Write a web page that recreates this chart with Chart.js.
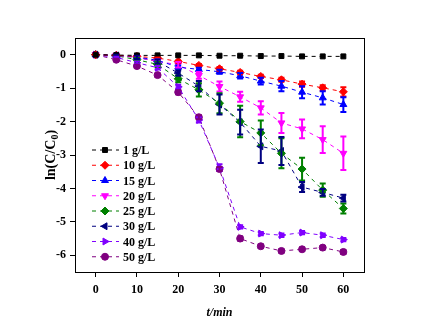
<!DOCTYPE html>
<html lang="en">
  <head>
    <meta charset="UTF-8" />
    <title>ln(C/C0) vs t</title>
    <script src="https://cdn.jsdelivr.net/npm/chart.js"></script>
    <style>
      html, body { margin: 0; padding: 0; background: #fff; }
      #wrap { width: 422px; height: 326px; }
    </style>
  </head>
  <body>
    <div id="wrap"><canvas id="chart" width="422" height="326"></canvas></div>

    <script>
      // time axis (min)
      const times = [0, 5, 10, 15, 20, 25, 30, 35, 40, 45, 50, 55, 60];
      const seriesLabels = ["1 g/L", "10 g/L", "15 g/L", "20 g/L", "25 g/L", "30 g/L", "40 g/L", "50 g/L"];
      const xTicks = [0, 10, 20, 30, 40, 50, 60];
      const yTicks = [0, -1, -2, -3, -4, -5, -6];

      // ln(C/C0) values
      const g1  = [0, -0.01, -0.02, -0.02, -0.02, -0.02, -0.03, -0.03, -0.04, -0.04, -0.05, -0.05, -0.05];
      const g10 = [0, -0.02, -0.05, -0.1, -0.2, -0.32, -0.42, -0.53, -0.65, -0.75, -0.88, -0.99, -1.11];
      const g15 = [0, -0.02, -0.06, -0.17, -0.37, -0.44, -0.51, -0.63, -0.79, -0.94, -1.12, -1.29, -1.49];
      const g20 = [0, -0.02, -0.08, -0.2, -0.3, -0.62, -0.95, -1.26, -1.59, -2.04, -2.22, -2.54, -2.95];
      const g25 = [0, -0.03, -0.15, -0.29, -0.72, -1.05, -1.45, -2.0, -2.34, -2.95, -3.42, -4.05, -4.6];
      const g30 = [0, -0.02, -0.08, -0.2, -0.55, -0.94, -1.49, -2.02, -2.74, -2.88, -3.96, -4.12, -4.29];
      const g40 = [0, -0.08, -0.24, -0.39, -0.96, -1.95, -3.38, -5.15, -5.35, -5.4, -5.32, -5.4, -5.53];
      const g50 = [0, -0.15, -0.34, -0.61, -1.12, -1.87, -3.42, -5.5, -5.73, -5.87, -5.82, -5.77, -5.9];

      // error bar half widths
      const e1  = [0, 0, 0, 0, 0, 0, 0, 0, 0, 0, 0, 0, 0];
      const e10 = [0, 0, 0, 0.02, 0.03, 0.04, 0.05, 0.05, 0.05, 0.06, 0.08, 0.08, 0.14];
      const e15 = [0, 0, 0.02, 0.03, 0.05, 0.05, 0.06, 0.08, 0.1, 0.15, 0.18, 0.2, 0.22];
      const e20 = [0, 0, 0.03, 0.05, 0.08, 0.1, 0.15, 0.15, 0.2, 0.3, 0.28, 0.4, 0.5];
      const e25 = [0, 0.02, 0.05, 0.08, 0.1, 0.2, 0.3, 0.47, 0.37, 0.45, 0.34, 0.2, 0.15];
      const e30 = [0, 0.02, 0.05, 0.06, 0.08, 0.15, 0.3, 0.37, 0.5, 0.42, 0.15, 0.1, 0.1];
      const e40 = [0, 0.02, 0.04, 0.05, 0.06, 0.08, 0.1, 0.05, 0.05, 0.05, 0.05, 0.05, 0.05];
      const e50 = [0, 0.03, 0.04, 0.05, 0.06, 0.06, 0.06, 0.06, 0.05, 0.05, 0.05, 0.05, 0.06];

      const values = [g1, g10, g15, g20, g25, g30, g40, g50];
      const errors = [e1, e10, e15, e20, e25, e30, e40, e50];
      const colors = ["#000000", "#ff0000", "#0000ff", "#ff00ff", "#008000", "#000080", "#8000ff", "#800080"];
      const styles = ["rect", "rectRot", "triangle", "triangle", "rectRot", "triangle", "triangle", "circle"];
      const rotations = [0, 0, 0, 180, 0, -90, 90, 0];
      const radii = [3.5, 4, 4, 4, 4, 4, 4, 3.5];

      const FONT = "'Liberation Serif', 'DejaVu Serif', serif";

      const datasets = values.map((v, k) => ({
        label: seriesLabels[k],
        data: times.map((t, i) => ({ x: t, y: v[i] })),
        errors: errors[k],
        borderColor: colors[k],
        backgroundColor: colors[k],
        borderWidth: 1,
        borderDash: [4, 4],
        pointStyle: styles[k],
        rotation: rotations[k],
        pointRadius: radii[k],
        pointBorderWidth: 1,
        showLine: true,
        fill: false,
      }));

      // error bars drawn with the chart scales
      const errorBars = {
        id: "errorBars",
        afterDatasetsDraw(chart) {
          const { ctx, scales } = chart;
          ctx.save();
          chart.data.datasets.forEach((ds) => {
            ctx.strokeStyle = ds.borderColor;
            ctx.lineWidth = 2;
            ds.data.forEach((p, i) => {
              const e = ds.errors[i];
              if (!e) return;
              const x = scales.x.getPixelForValue(p.x);
              const y1 = scales.y.getPixelForValue(p.y + e);
              const y2 = scales.y.getPixelForValue(p.y - e);
              ctx.beginPath();
              ctx.moveTo(x, y1); ctx.lineTo(x, y2);
              ctx.moveTo(x - 3, y1); ctx.lineTo(x + 3, y1);
              ctx.moveTo(x - 3, y2); ctx.lineTo(x + 3, y2);
              ctx.stroke();
            });
          });
          ctx.restore();
        },
      };

      // frame, legend and axis titles
      const decorations = {
        id: "decorations",
        afterDraw(chart) {
          const { ctx, chartArea: a } = chart;
          ctx.save();
          ctx.strokeStyle = "#000";
          ctx.lineWidth = 1;
          ctx.strokeRect(a.left + 0.5, a.top + 0.5, a.right - a.left, a.bottom - a.top);

          // legend
          ctx.font = "bold 12px " + FONT;
          ctx.textBaseline = "middle";
          chart.data.datasets.forEach((ds, k) => {
            const y = 150 + k * 15.25;
            ctx.strokeStyle = ds.borderColor;
            ctx.fillStyle = ds.backgroundColor;
            ctx.lineWidth = 1;
            ctx.setLineDash([4, 4]);
            ctx.beginPath();
            ctx.moveTo(92, y); ctx.lineTo(119, y);
            ctx.stroke();
            ctx.setLineDash([]);
            Chart.helpers.drawPoint(ctx, {
              pointStyle: ds.pointStyle, rotation: ds.rotation,
              radius: ds.pointRadius, borderWidth: 1,
            }, 105, y);
            ctx.fillStyle = "#000";
            ctx.textAlign = "left";
            ctx.fillText(ds.label, 123, y + 1);
          });

          // y title ln(C/C0)
          ctx.save();
          ctx.translate(50, (a.top + a.bottom) / 2);
          ctx.rotate(-Math.PI / 2);
          ctx.fillStyle = "#000";
          ctx.font = "bold 14px " + FONT;
          const main = "ln(C/C";
          const w1 = ctx.measureText(main).width;
          ctx.font = "bold 10px " + FONT;
          const ws = ctx.measureText("0").width;
          ctx.font = "bold 14px " + FONT;
          const w3 = ctx.measureText(")").width;
          let x0 = -(w1 + ws + w3) / 2;
          ctx.textAlign = "left";
          ctx.textBaseline = "alphabetic";
          ctx.fillText(main, x0, 5);
          ctx.font = "bold 10px " + FONT;
          ctx.fillText("0", x0 + w1, 8);
          ctx.font = "bold 14px " + FONT;
          ctx.fillText(")", x0 + w1 + ws, 5);
          ctx.restore();

          // x title t/min
          ctx.font = "italic bold 12px " + FONT;
          ctx.textAlign = "center";
          ctx.textBaseline = "middle";
          ctx.fillStyle = "#000";
          ctx.fillText("t/min", (a.left + a.right) / 2, 313);
          ctx.restore();
        },
      };

      new Chart(document.getElementById("chart"), {
        type: "scatter",
        data: { datasets },
        options: {
          responsive: false,
          animation: false,
          layout: { padding: { top: 38, right: 58, left: 0, bottom: 0 } },
          plugins: { legend: { display: false }, tooltip: { enabled: false } },
          scales: {
            x: {
              type: "linear",
              min: -5,
              max: 65,
              afterBuildTicks: (s) => { s.ticks = xTicks.map((v) => ({ value: v })); },
              afterFit: (s) => { s.height = 54; },
              grid: { drawOnChartArea: false, drawTicks: true, tickLength: 5, color: "#000" },
              border: { color: "#000", width: 1 },
              ticks: { color: "#000", font: { family: FONT, size: 12, weight: "bold" }, padding: 6 },
            },
            y: {
              type: "linear",
              min: -6.5,
              max: 0.5,
              afterBuildTicks: (s) => { s.ticks = yTicks.map((v) => ({ value: v })); },
              afterFit: (s) => { s.width = 75; },
              grid: { drawOnChartArea: false, drawTicks: true, tickLength: 5, color: "#000" },
              border: { color: "#000", width: 1 },
              ticks: { color: "#000", font: { family: FONT, size: 12, weight: "bold" }, padding: 4 },
            },
          },
        },
        plugins: [errorBars, decorations],
      });
    </script>
  </body>
</html>
